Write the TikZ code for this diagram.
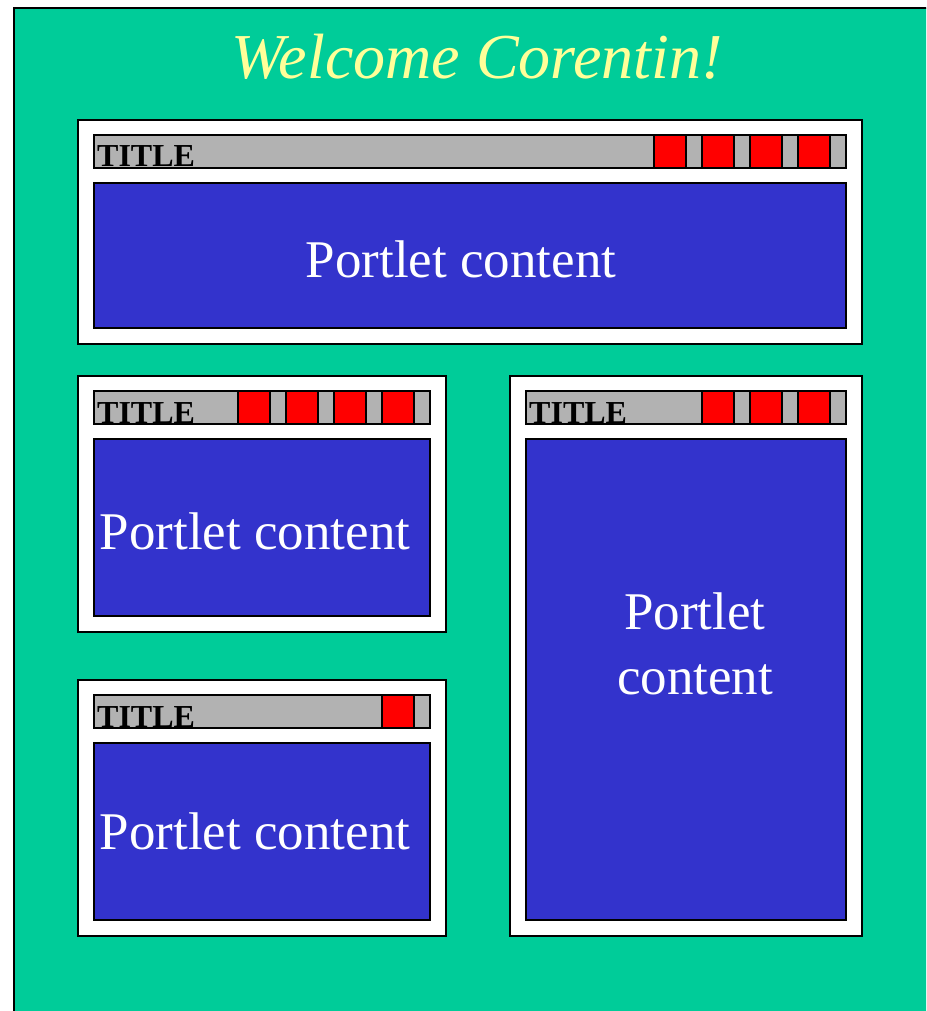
\documentclass[tikz,border=0pt]{standalone}
\usepackage{fontspec}
\setmainfont{Liberation Serif}
\usetikzlibrary{positioning}
\definecolor{deskgreen}{HTML}{00CC99}
\definecolor{paneblue}{HTML}{3333CC}
\definecolor{bargray}{HTML}{B2B2B2}
\definecolor{greetyellow}{HTML}{FFFF99}
\tikzset{
  % white outer box of a portlet
  portletbox/.style={draw=black, fill=white, line width=2pt, inner sep=0pt, outer sep=0pt},
  % grey title bar with its buttons
  titlebar/.style={draw=black, fill=bargray, line width=2pt, inner sep=0pt,
    outer sep=0pt, minimum height=33pt},
  btn/.style={draw=black, fill=red, line width=2pt, inner sep=0pt, outer sep=0pt,
    minimum width=32pt, minimum height=33pt},
  tag/.style={font=\fontsize{32}{32}\selectfont\bfseries, inner sep=0pt, text=black},
  % blue content area
  body/.style={draw=black, fill=paneblue, line width=2pt, inner sep=0pt, outer sep=0pt},
  bodytext/.style={font=\fontsize{53}{65}\selectfont, text=white, align=center, inner sep=0pt},
  greeting/.style={font=\fontsize{64}{64}\selectfont\itshape, text=greetyellow, inner sep=0pt},
}
% #1 name, #2 left, #3 top, #4 right, #5 bottom, #6 number of buttons
\newcommand{\portlet}[6]{%
  \node[portletbox, minimum width={#4-#2}, minimum height={#5-#3}]
        (#1) at ({(#2+#4)/2},{(#3+#5)/2}) {};
  \node[titlebar, minimum width={#4-#2-32}, anchor=north]
        (#1-bar) at ([yshift=-15pt]#1.north) {};
  \foreach \k in {1,...,#6}
    \node[btn, anchor=east] (#1-btn\k) at ([xshift={-16-(\k-1)*48}]#1-bar.east) {};
  \node[tag, anchor=base west] (#1-tag) at ([xshift=3pt,yshift=1pt]#1-bar.south west) {TITLE};
  \node[body, minimum width={#4-#2-32}, minimum height={#5-#3-79}, anchor=south]
        (#1-body) at ([yshift=16pt]#1.south) {};}

\begin{document}
\begin{tikzpicture}[x=1pt, y=-1pt]

  \useasboundingbox (0,0) rectangle (926,1011);
  \clip (0,0) rectangle (926,1011);
  \draw[fill=deskgreen, line width=2pt] (14,8) rectangle (960,1040);

  \node[greeting, anchor=base] (welcome) at (477,79) {Welcome Corentin!};

  \portlet{p1}{78}{120}{862}{344}{4}
  \portlet{p2}{78}{376}{446}{632}{4}
  \portlet{p3}{510}{376}{862}{936}{3}
  \portlet{p4}{78}{680}{446}{936}{1}

  \node[bodytext, anchor=base] (p1-text) at (461,277) {Portlet content};
  \node[bodytext, anchor=base] (p2-text) at (255,549) {Portlet content};
  \node[bodytext, anchor=base] (p3-text) at (695,694) {Portlet\\content};
  \node[bodytext, anchor=base] (p4-text) at (255,849) {Portlet content};

\end{tikzpicture}
\end{document}
